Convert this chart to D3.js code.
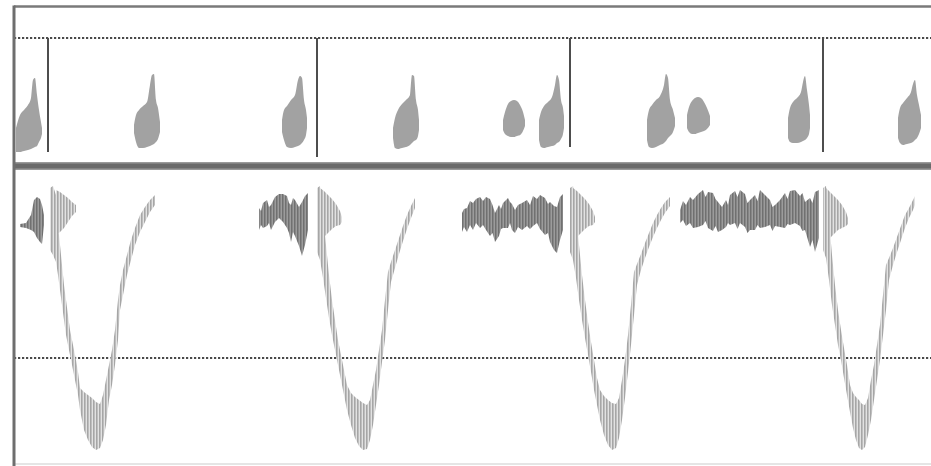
<!DOCTYPE html>
<html>
<head>
<meta charset="utf-8">
<script src="https://cdn.jsdelivr.net/npm/d3@7"></script>
<style>
  body { margin: 0; background: #fff; }
</style>
</head>
<body>
<div id="chart"></div>
<script>
// time in ms, velocities in cm/s  -- columns are [t, upper, lower]

// R waves (ECG markers) and where each marker stops in the top panel
var rWaves = [192, 1268, 2280, 3292];
var rWaveEnds = [-2, -7, 3, -2];

// reference (dotted) levels
var topRef = 112;
var bottomRef = -173;

// top panel: inflow envelopes
var inflow1 = [[64,22,-2],[80,35,-2],[96,40,-1],[112,45,0],[124,52,1],[132,70,2],[140,72,3],[148,55,4],[156,40,8],[164,28,12],[168,22,16]];
var inflow2 = [[536,25,17],[544,35,8],[556,40,2],[572,44,2],[588,48,3],[600,65,4],[608,75,5],[616,76,6],[624,50,8],[632,42,11],[640,28,18]];
var inflow3 = [[1128,30,18],[1136,40,10],[1148,44,3],[1164,50,2],[1180,55,3],[1192,70,4],[1200,74,5],[1208,72,7],[1216,50,10],[1224,40,15],[1228,32,22]];
var inflow4 = [[1572,22,12],[1580,32,2],[1592,40,1],[1608,46,2],[1624,50,3],[1640,55,5],[1648,75,7],[1656,74,9],[1664,50,10],[1672,40,14],[1676,30,20]];
var inflow5 = [[2012,30,20],[2020,38,16],[2032,46,14],[2044,49,13],[2056,50,13],[2068,49,14],[2080,45,15],[2092,38,19],[2100,30,24]];
var inflow6 = [[2156,30,10],[2164,38,3],[2176,44,2],[2192,48,3],[2208,53,4],[2220,65,5],[2228,75,7],[2236,70,8],[2244,50,11],[2252,42,16],[2256,34,22]];
var inflow7 = [[2588,30,10],[2596,40,3],[2608,45,2],[2624,50,3],[2640,54,5],[2656,65,7],[2664,76,9],[2672,72,12],[2680,50,14],[2692,40,18],[2700,32,24]];
var inflow8 = [[2748,35,22],[2756,43,18],[2768,49,16],[2780,52,16],[2792,53,17],[2804,52,18],[2816,48,19],[2828,42,21],[2840,34,25]];
var inflow9 = [[3152,32,12],[3160,42,8],[3172,48,7],[3188,52,7],[3204,58,8],[3212,68,9],[3220,74,10],[3228,60,12],[3236,45,16],[3240,35,22]];
var inflow10 = [[3592,32,12],[3600,42,7],[3612,47,5],[3628,52,6],[3644,58,7],[3652,66,8],[3660,70,10],[3668,55,12],[3676,45,16],[3684,35,22]];

// bottom panel: outflow spectra (one V per beat)
var outflow1 = [[200,-3,-65],[212,-1,-70],[224,-10,-77],[232,-40,-90],[240,-60,-105],[248,-80,-120],[256,-100,-135],[264,-115,-150],[272,-130,-160],[280,-145,-170],[288,-155,-180],[296,-165,-190],[304,-175,-200],[312,-187,-210],[320,-203,-225],[336,-207,-245],[352,-210,-255],[368,-213,-262],[384,-217,-265],[400,-219,-263],[412,-210,-255],[424,-195,-240],[436,-180,-215],[448,-165,-200],[460,-145,-180],[472,-115,-155],[480,-100,-125],[492,-85,-110],[508,-70,-90],[524,-55,-75],[540,-43,-60],[560,-30,-47],[580,-22,-37],[600,-15,-27],[620,-10,-20]];
var outflow2 = [[1268,-3,-67],[1280,-1,-75],[1292,-30,-93],[1304,-60,-113],[1316,-90,-133],[1328,-115,-150],[1340,-135,-165],[1352,-155,-180],[1364,-170,-195],[1376,-185,-210],[1388,-200,-225],[1404,-208,-240],[1420,-212,-253],[1436,-215,-261],[1452,-218,-265],[1468,-220,-264],[1480,-215,-255],[1492,-200,-240],[1504,-185,-220],[1516,-165,-200],[1528,-145,-177],[1540,-115,-155],[1552,-87,-125],[1564,-77,-97],[1580,-65,-83],[1596,-53,-69],[1612,-41,-56],[1628,-30,-44],[1644,-21,-33],[1660,-13,-23]];
var outflow3 = [[2280,-3,-67],[2292,-1,-75],[2304,-30,-93],[2316,-60,-115],[2328,-90,-135],[2340,-115,-153],[2352,-137,-170],[2364,-157,-187],[2376,-175,-205],[2388,-193,-220],[2400,-205,-235],[2416,-211,-250],[2432,-215,-260],[2448,-218,-265],[2464,-219,-263],[2476,-213,-253],[2488,-195,-235],[2500,-175,-213],[2512,-150,-187],[2524,-120,-160],[2536,-87,-130],[2548,-79,-100],[2564,-69,-85],[2580,-58,-73],[2596,-48,-62],[2612,-38,-52],[2628,-30,-43],[2644,-23,-35],[2660,-17,-28],[2680,-12,-21]];
var outflow4 = [[3292,-3,-65],[3304,-1,-73],[3316,-35,-95],[3328,-70,-120],[3340,-100,-140],[3352,-125,-160],[3364,-145,-175],[3376,-163,-193],[3388,-180,-210],[3400,-200,-227],[3412,-208,-243],[3424,-212,-255],[3436,-215,-263],[3448,-219,-265],[3460,-220,-262],[3472,-213,-250],[3484,-195,-235],[3496,-180,-215],[3508,-160,-195],[3520,-140,-175],[3532,-110,-150],[3544,-80,-125],[3556,-73,-95],[3572,-63,-80],[3588,-52,-67],[3604,-41,-55],[3620,-30,-43],[3636,-23,-33],[3652,-15,-25],[3660,-11,-20]];

// early lobe at the start of each V
var lobe1 = [[224,-5,-50],[240,-7,-47],[256,-10,-43],[272,-13,-37],[288,-17,-31],[304,-20,-27]];
var lobe2 = [[1280,-3,-55],[1296,-6,-52],[1312,-10,-48],[1328,-14,-44],[1344,-19,-41],[1360,-26,-40],[1368,-32,-37]];
var lobe3 = [[2292,-3,-55],[2308,-6,-52],[2324,-10,-48],[2340,-14,-44],[2356,-19,-41],[2372,-26,-40],[2380,-32,-37]];
var lobe4 = [[3304,-3,-55],[3320,-7,-53],[3336,-11,-49],[3352,-15,-45],[3368,-20,-43],[3384,-27,-41],[3392,-33,-39]];

// darker noisy signal between beats
var noise0 = [[80,-39,-42],[104,-38,-43],[124,-30,-45],[136,-15,-47],[148,-12,-53],[160,-14,-57],[168,-20,-59],[176,-30,-40]];
var noise1 = [[1036,-23,-45],[1044,-26,-40],[1052,-18,-43],[1068,-15,-41],[1076,-22,-38],[1084,-20,-45],[1100,-12,-37],[1116,-9,-33],[1132,-9,-37],[1148,-11,-43],[1156,-18,-48],[1164,-20,-57],[1172,-13,-47],[1180,-15,-51],[1196,-22,-61],[1208,-17,-71],[1220,-11,-60],[1232,-8,-45]];
var noise2 = [[1848,-28,-47],[1856,-24,-42],[1868,-23,-47],[1880,-16,-40],[1892,-18,-45],[1904,-14,-38],[1920,-12,-43],[1932,-16,-40],[1944,-12,-45],[1960,-14,-51],[1970,-20,-48],[1980,-28,-57],[1996,-20,-51],[2004,-24,-44],[2012,-18,-43],[2032,-13,-43],[2040,-17,-38],[2048,-19,-45],[2060,-25,-48],[2072,-20,-42],[2088,-18,-45],[2108,-15,-41],[2120,-20,-44],[2132,-11,-41],[2148,-14,-38],[2160,-10,-44],[2180,-13,-50],[2192,-19,-48],[2200,-17,-57],[2216,-21,-65],[2228,-22,-68],[2240,-12,-55],[2252,-9,-45]];
var noise3 = [[2720,-25,-38],[2732,-16,-35],[2744,-20,-41],[2760,-12,-38],[2772,-15,-43],[2792,-9,-42],[2812,-5,-40],[2822,-12,-36],[2832,-7,-43],[2852,-8,-46],[2862,-14,-41],[2872,-17,-47],[2888,-22,-45],[2904,-15,-42],[2912,-20,-38],[2920,-10,-40],[2940,-6,-38],[2950,-12,-44],[2960,-5,-38],[2980,-9,-42],[2990,-18,-48],[3000,-15,-45],[3020,-10,-45],[3030,-16,-40],[3040,-5,-43],[3060,-10,-42],[3080,-15,-40],[3090,-22,-46],[3100,-20,-41],[3120,-15,-42],[3140,-8,-43],[3150,-14,-39],[3160,-6,-40],[3180,-5,-38],[3200,-11,-41],[3210,-8,-46],[3220,-17,-45],[3240,-13,-62],[3250,-18,-55],[3260,-7,-67],[3276,-5,-53]];

var inflows = [inflow1, inflow2, inflow3, inflow4, inflow5, inflow6, inflow7, inflow8, inflow9, inflow10];
var outflows = [outflow1, outflow2, outflow3, outflow4];
var lobes = [lobe1, lobe2, lobe3, lobe4];
var noises = [noise0, noise1, noise2, noise3];

var width = 931, height = 466;
var left = 14;

var x = d3.scaleLinear().domain([0, 3724]).range([0, width]);
var yTop = d3.scaleLinear().domain([0, 112]).range([150, 38]);
var yBot = d3.scaleLinear().domain([0, -173]).range([185, 358]);

var svg = d3.select("#chart").append("svg")
    .attr("width", width)
    .attr("height", height);

// hatch patterns for the spectral marks
var defs = svg.append("defs");
var hatch = defs.append("pattern")
    .attr("id", "hatch")
    .attr("patternUnits", "userSpaceOnUse")
    .attr("width", 3).attr("height", 10);
hatch.append("rect").attr("width", 3).attr("height", 10).attr("fill", "#e2e2e2");
hatch.append("rect").attr("width", 1.6).attr("height", 10).attr("fill", "#a6a6a6");

var hatchDark = defs.append("pattern")
    .attr("id", "hatchDark")
    .attr("patternUnits", "userSpaceOnUse")
    .attr("width", 3).attr("height", 10);
hatchDark.append("rect").attr("width", 3).attr("height", 10).attr("fill", "#9c9c9c");
hatchDark.append("rect").attr("width", 1.5).attr("height", 10).attr("fill", "#707070");

defs.append("filter").attr("id", "soft")
    .append("feGaussianBlur").attr("stdDeviation", 0.45);

// frame
svg.append("line")
    .attr("x1", left).attr("x2", width)
    .attr("y1", 6.5).attr("y2", 6.5)
    .attr("stroke", "#7a7a7a").attr("stroke-width", 2.5);
svg.append("line")
    .attr("x1", left).attr("x2", width)
    .attr("y1", 464).attr("y2", 464)
    .attr("stroke", "#dcdcdc").attr("stroke-width", 1.5);
svg.append("rect")
    .attr("x", left).attr("y", 162)
    .attr("width", width - left).attr("height", 8)
    .attr("fill", "#9a9a9a");
svg.append("rect")
    .attr("x", left).attr("y", 163.5)
    .attr("width", width - left).attr("height", 5)
    .attr("fill", "#6a6a6a");

// dotted reference lines
svg.append("line")
    .attr("x1", left).attr("x2", width)
    .attr("y1", yTop(topRef)).attr("y2", yTop(topRef))
    .attr("stroke", "#4a4a4a").attr("stroke-width", 2.2)
    .attr("stroke-dasharray", "2.2,1.8");
svg.append("line")
    .attr("x1", left).attr("x2", width)
    .attr("y1", yBot(bottomRef)).attr("y2", yBot(bottomRef))
    .attr("stroke", "#4a4a4a").attr("stroke-width", 2.2)
    .attr("stroke-dasharray", "2.2,1.8");

// top panel envelopes
var topArea = d3.area()
    .x(function(d) { return x(d[0]); })
    .y0(function(d) { return yTop(d[2]); })
    .y1(function(d) { return yTop(d[1]); })
    .curve(d3.curveMonotoneX);

svg.append("g").attr("filter", "url(#soft)")
    .selectAll("path")
    .data(inflows)
    .enter().append("path")
    .attr("d", topArea)
    .attr("fill", "#a2a2a2");

// R-wave markers
svg.append("g")
    .selectAll("line")
    .data(rWaves)
    .enter().append("line")
    .attr("x1", function(d) { return x(d); })
    .attr("x2", function(d) { return x(d); })
    .attr("y1", yTop(topRef))
    .attr("y2", function(d, i) { return yTop(rWaveEnds[i]); })
    .attr("stroke", "#4d4d4d")
    .attr("stroke-width", 2);

// bottom panel spectra
var botArea = d3.area()
    .x(function(d) { return x(d[0]); })
    .y0(function(d) { return yBot(d[2]); })
    .y1(function(d) { return yBot(d[1]); });

var bottom = svg.append("g").attr("filter", "url(#soft)");

bottom.selectAll("path.noise")
    .data(noises)
    .enter().append("path")
    .attr("class", "noise")
    .attr("d", botArea)
    .attr("fill", "url(#hatchDark)");

bottom.selectAll("path.lobe")
    .data(lobes)
    .enter().append("path")
    .attr("class", "lobe")
    .attr("d", botArea)
    .attr("fill", "url(#hatch)");

bottom.selectAll("path.flow")
    .data(outflows)
    .enter().append("path")
    .attr("class", "flow")
    .attr("d", botArea)
    .attr("fill", "url(#hatch)");

// left border, drawn last so it sits on top
svg.append("line")
    .attr("x1", left).attr("x2", left)
    .attr("y1", 5.5).attr("y2", height)
    .attr("stroke", "#6e6e6e").attr("stroke-width", 3);
</script>
</body>
</html>
